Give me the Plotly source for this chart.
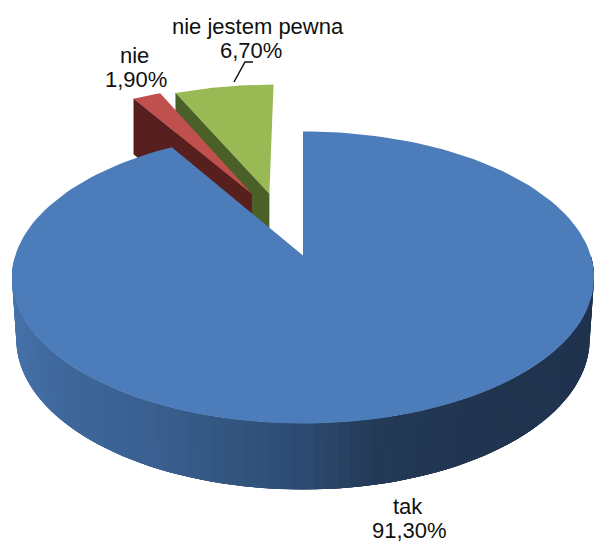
import numpy as np
import plotly.graph_objects as go

# Survey results
labels = ["tak", "nie", "nie jestem pewna"]
values = [91.3, 1.9, 6.7]
value_texts = ["91,30%", "1,90%", "6,70%"]

top_colors = ["#4c7dba", "#c0504d", "#98b954"]
side_colors = [None, "#571f1d", "#4b6028"]
# Pulled-out slices: offset on the pie plane (right, away from the viewer)
explode = [(0.0, 0.0), (-0.19, 0.46), (-0.125, 0.462)]

W, H = 595, 543
CX, CY = 303.0, 255.5
KP, AX, BY = 0.1507, 287.7, 142.7
THICK = 60.8
BASE_SCALE = 0.985  # the lower face sits slightly further from the viewer
FONT = dict(family="Liberation Sans, Arial, sans-serif", size=22, color="#111111")

# Shading of the rim, light on the left and dark towards the right
RIM_X = [12, 60, 150, 240, 300, 380, 470, 595]
RIM_R = [70, 62, 58, 50, 45, 35, 33, 32]
RIM_G = [114, 103, 96, 84, 75, 57, 53, 51]
RIM_B = [170, 155, 145, 125, 113, 86, 80, 78]


def project(u, v):
    """Perspective projection of a point on the top plane; also returns the rim depth."""
    w = 1 + KP * v
    return CX + AX * u / w, CY - BY * v / w, THICK / np.sqrt(w)


def base_x(x):
    return CX + (x - CX) * BASE_SCALE


def rim_color(x):
    r = np.interp(x, RIM_X, RIM_R)
    g = np.interp(x, RIM_X, RIM_G)
    b = np.interp(x, RIM_X, RIM_B)
    return f"rgb({r:.0f},{g:.0f},{b:.0f})"


def polygon(xs, ys, color, line=0.0):
    return go.Scatter(
        x=xs, y=ys, mode="lines", fill="toself", fillcolor=color,
        line=dict(color=color, width=line), hoverinfo="skip", showlegend=False,
    )


edges = np.concatenate([[0], np.cumsum(values)]) / sum(values) * 2 * np.pi
fig = go.Figure()


def slice_outline(i):
    ou, ov = explode[i]
    th = np.linspace(edges[i], edges[i + 1], 160)
    us = np.concatenate([[ou], ou + np.sin(th)])
    vs = np.concatenate([[ov], ov + np.cos(th)])
    return project(us, vs)


# Back slices first, the large slice covers their lower parts
for i in (2, 1):
    xs, ys, ds = slice_outline(i)
    # Exposed radial wall along the leading edge
    fig.add_trace(polygon(
        [xs[0], xs[1], xs[1], xs[0]],
        [ys[0], ys[1], ys[1] + ds[1], ys[0] + ds[0]],
        side_colors[i], 0.5,
    ))
    fig.add_trace(polygon(xs, ys, top_colors[i]))

# Rim of the large slice, painted left to right; every band runs on under the
# next one so that no seams show between the shades
theta = np.radians(np.arange(270, 89.9, -2.0))
rim_x, rim_y, rim_d = project(np.sin(theta), np.cos(theta))
OVERLAP = 4
for j in range(len(theta) - 1):
    k = min(j + OVERLAP, len(theta) - 1)
    top_x = rim_x[j:k + 1]
    top_y = rim_y[j:k + 1]
    low_x = base_x(top_x)[::-1]
    low_y = (rim_y[j:k + 1] + rim_d[j:k + 1])[::-1]
    fig.add_trace(polygon(
        np.concatenate([top_x, low_x]), np.concatenate([top_y, low_y]),
        rim_color((rim_x[j] + rim_x[j + 1]) / 2), 0,
    ))

xs, ys, _ = slice_outline(0)
fig.add_trace(polygon(xs, ys, top_colors[0]))

# Leader line of the green slice's label
fig.add_trace(go.Scatter(
    x=[234, 245, 253], y=[82, 62, 62], mode="lines",
    line=dict(color="#111111", width=1.5), hoverinfo="skip", showlegend=False,
))

# Category and value labels
label_pos = {0: (408, 506, 409, 530), 1: (134, 55, 136, 79), 2: (258, 26, 251, 50)}
for i, (lx, ly, vx, vy) in label_pos.items():
    fig.add_annotation(x=lx, y=ly, text=labels[i], showarrow=False, font=FONT)
    fig.add_annotation(x=vx, y=vy, text=value_texts[i], showarrow=False, font=FONT)

fig.update_xaxes(range=[0, W], visible=False, fixedrange=True)
fig.update_yaxes(range=[H, 0], visible=False, fixedrange=True)
fig.update_layout(
    width=W, height=H, margin=dict(l=0, r=0, t=0, b=0),
    paper_bgcolor="white", plot_bgcolor="white", showlegend=False,
)
fig.write_html("out.html", config=dict(displayModeBar=False))
